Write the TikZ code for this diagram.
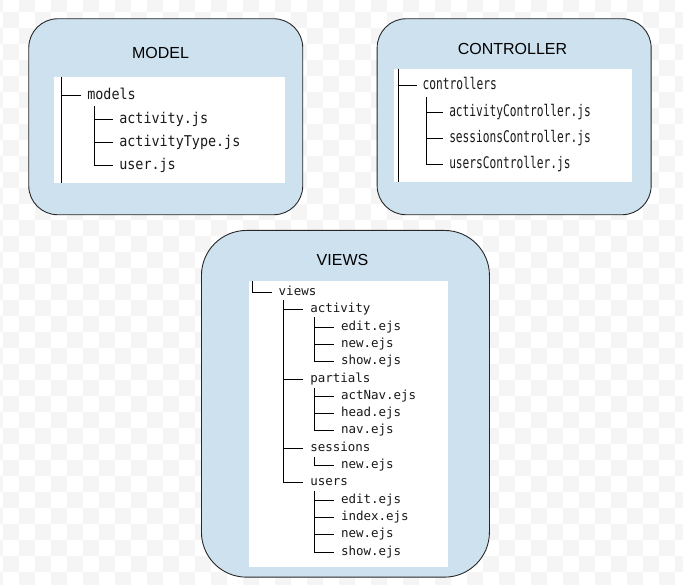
\documentclass[tikz,border=0pt]{standalone}
\usepackage{fontspec}
\setmainfont{Liberation Sans}
\newfontfamily\treefont{DejaVu Sans Mono}
\definecolor{boxfill}{RGB}{205,225,239}
\definecolor{boxline}{RGB}{40,40,40}
\definecolor{checker}{RGB}{245,245,245}

\begin{document}
\begin{tikzpicture}[x=1pt, y=-1pt,
  box/.style={draw=boxline, fill=boxfill, line width=0.9pt, anchor=north west, inner sep=0pt},
  panel/.style={fill=white, anchor=north west, inner sep=0pt},
  title/.style={inner sep=0pt, font=\fontsize{16}{19}\selectfont},
  file/.style={anchor=west, inner xsep=7pt, inner ysep=0pt, outer sep=0pt, text=black!90},
  mfile/.style={file, text height=11.5pt, text depth=3.4pt,
    font={\treefont\fontsize{14.9}{17}\selectfont}, xscale=0.9},
  cfile/.style={file, inner xsep=8.5pt, text height=12.3pt, text depth=3.7pt,
    font={\treefont\fontsize{16}{19}\selectfont}, xscale=0.7},
  vfile/.style={file, text height=9.6pt, text depth=2.9pt,
    font={\treefont\fontsize{12.5}{15}\selectfont}},
  tree/.style={line width=1pt, black}
]
\useasboundingbox (0,0) rectangle (683,585);

% transparent background
\begin{scope}
\clip (0,0) rectangle (683,585);
\foreach \i in {-1,...,42}
  \foreach \j in {-1,...,36}
    {\ifodd\numexpr\i+\j+2\relax\else
      \fill[checker] ({3+16*\i},{11.7+16*\j}) rectangle +(16,16);
    \fi}
\end{scope}

% MODEL
\node[box, rounded corners=29pt, minimum width=274, minimum height=196] (modelbox) at (28.3,18.3) {};
\node[title] (modeltitle) at (160.5,53) {MODEL};
\node[panel, minimum width=231, minimum height=105.4] (mpanel) at (54,77.3) {};

\coordinate (mroot) at (61.5,77.3);
\coordinate (mend) at (61.5,182.7);
\node[mfile] (models) at (81,95.5) {models};
\coordinate (msub) at (94.5,106.5);
\node[mfile] (mact) at (113,119.5) {activity.js};
\node[mfile] (mtype) at (113,142.5) {activityType.js};
\node[mfile] (muser) at (113,165.5) {user.js};

\draw[tree] (mroot) -- (mend);
\draw[tree] (mroot |- models.west) -- (models.west);
\draw[tree] (msub) -- (msub |- muser.west) -- (muser.west);
\draw[tree] (msub |- mact.west) -- (mact.west);
\draw[tree] (msub |- mtype.west) -- (mtype.west);

% CONTROLLER
\node[box, rounded corners=29pt, minimum width=274, minimum height=196] (ctrlbox) at (376.7,18.3) {};
\node[title] (ctrltitle) at (512.5,49.2) {CONTROLLER};
\node[panel, minimum width=238.4, minimum height=112.7] (cpanel) at (393.3,69) {};

\coordinate (croot) at (398.5,69);
\coordinate (cend) at (398.5,181.7);
\node[cfile] (controllers) at (416.7,85.5) {controllers};
\coordinate (csub) at (426.5,97);
\node[cfile] (cact) at (443.3,112.5) {activityController.js};
\node[cfile] (csess) at (443.3,138.5) {sessionsController.js};
\node[cfile] (cusers) at (443.3,164.5) {usersController.js};

\draw[tree] (croot) -- (cend);
\draw[tree] (croot |- controllers.west) -- (controllers.west);
\draw[tree] (csub) -- (csub |- cusers.west) -- (cusers.west);
\draw[tree] (csub |- cact.west) -- (cact.west);
\draw[tree] (csub |- csess.west) -- (csess.west);

% VIEWS
\node[box, rounded corners=45pt, minimum width=288, minimum height=346.7] (viewbox) at (201,230) {};
\node[title] (viewtitle) at (342.5,259.7) {VIEWS};
\node[panel, minimum width=198.7, minimum height=285.7] (vpanel) at (249,281) {};

\coordinate (vroot) at (252.5,281);
\node[vfile] (views) at (271.7,292.5) {views};
\coordinate (vsub) at (283.5,300.5);
\node[vfile] (activity) at (303.3,309.5) {activity};
\node[vfile] (partials) at (303.3,379.5) {partials};
\node[vfile] (sessions) at (303.3,448.5) {sessions};
\node[vfile] (users) at (303.3,482.5) {users};

\coordinate (asub) at (314.5,317.5);
\node[vfile] (aedit) at (334,327.5) {edit.ejs};
\node[vfile] (anew) at (334,344.5) {new.ejs};
\node[vfile] (ashow) at (334,361.5) {show.ejs};

\coordinate (psub) at (314.5,387.5);
\node[vfile] (pactnav) at (334,396.5) {actNav.ejs};
\node[vfile] (phead) at (334,413.5) {head.ejs};
\node[vfile] (pnav) at (334,430.5) {nav.ejs};

\coordinate (ssub) at (314.5,456.5);
\node[vfile] (snew) at (334,465.5) {new.ejs};

\coordinate (usub) at (314.5,490.5);
\node[vfile] (uedit) at (334,500.5) {edit.ejs};
\node[vfile] (uindex) at (334,517.5) {index.ejs};
\node[vfile] (unew) at (334,534.5) {new.ejs};
\node[vfile] (ushow) at (334,552.5) {show.ejs};

\draw[tree] (vroot) -- (vroot |- views.west) -- (views.west);
\draw[tree] (vsub) -- (vsub |- users.west) -- (users.west);
\draw[tree] (vsub |- activity.west) -- (activity.west);
\draw[tree] (vsub |- partials.west) -- (partials.west);
\draw[tree] (vsub |- sessions.west) -- (sessions.west);

\draw[tree] (asub) -- (asub |- ashow.west) -- (ashow.west);
\draw[tree] (asub |- aedit.west) -- (aedit.west);
\draw[tree] (asub |- anew.west) -- (anew.west);

\draw[tree] (psub) -- (psub |- pnav.west) -- (pnav.west);
\draw[tree] (psub |- pactnav.west) -- (pactnav.west);
\draw[tree] (psub |- phead.west) -- (phead.west);

\draw[tree] (ssub) -- (ssub |- snew.west) -- (snew.west);

\draw[tree] (usub) -- (usub |- ushow.west) -- (ushow.west);
\draw[tree] (usub |- uedit.west) -- (uedit.west);
\draw[tree] (usub |- uindex.west) -- (uindex.west);
\draw[tree] (usub |- unew.west) -- (unew.west);

\end{tikzpicture}
\end{document}
